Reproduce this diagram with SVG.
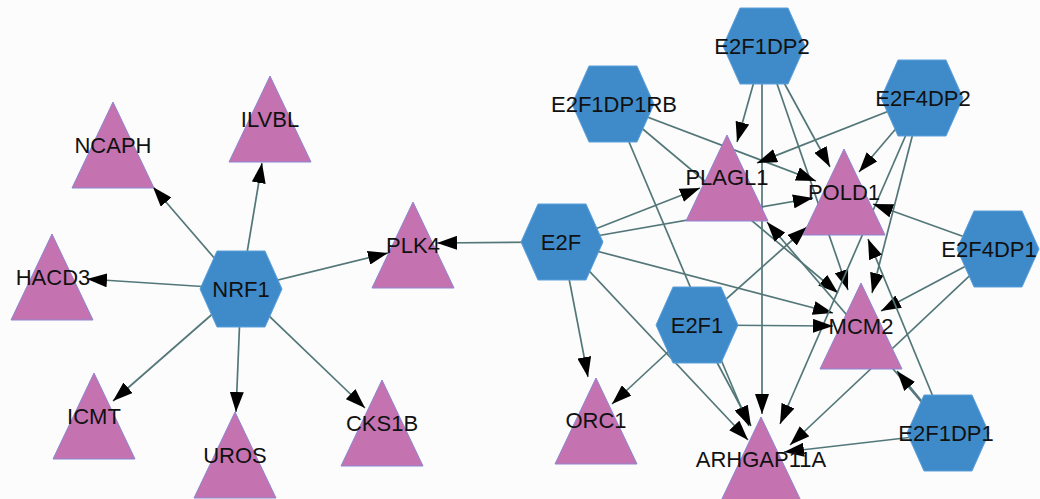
<svg xmlns="http://www.w3.org/2000/svg" xmlns:xlink="http://www.w3.org/1999/xlink" width="1040" height="499" viewBox="0 0 1040 499">
<style>
.edge{stroke:#537779;stroke-width:1.7;fill:none;marker-end:url(#arr)}
.tf{fill:#3f8bca;stroke:#5b9fdc;stroke-width:1}
.tg{fill:#c573b0;stroke:#8a86d2;stroke-width:1}
.lbl{font-family:"Liberation Sans",Arial,sans-serif;font-size:22px;fill:#111;text-anchor:middle}
</style>
<defs>
<marker id="arr" markerUnits="userSpaceOnUse" markerWidth="20" markerHeight="14" refX="20" refY="7" orient="auto">
<path d="M0,0 L20,7 L0,14 z" fill="#000"/>
</marker>
<polygon id="hex" points="-41,0 -24,-38 24,-38 41,0 24,38 -24,38"/>
<polygon id="tri" points="0,-43 41,43 -41,43"/>
</defs>
<rect width="1040" height="499" fill="#fdfcfc"/>
<g id="connectors">
<line class="edge" x1="241" y1="289" x2="153" y2="187"/>
<line class="edge" x1="241" y1="289" x2="262" y2="163"/>
<line class="edge" x1="241" y1="289" x2="388" y2="253"/>
<line class="edge" x1="241" y1="289" x2="87" y2="279"/>
<line class="edge" x1="241" y1="289" x2="113" y2="401"/>
<line class="edge" x1="241" y1="289" x2="236" y2="412"/>
<line class="edge" x1="241" y1="289" x2="365" y2="408"/>
<line class="edge" x1="562" y1="242" x2="437" y2="243"/>
<line class="edge" x1="562" y1="242" x2="700" y2="188"/>
<line class="edge" x1="562" y1="242" x2="813" y2="198"/>
<line class="edge" x1="562" y1="242" x2="833" y2="313"/>
<line class="edge" x1="562" y1="242" x2="588" y2="377"/>
<line class="edge" x1="562" y1="242" x2="748" y2="440"/>
<line class="edge" x1="764" y1="46" x2="737" y2="142"/>
<line class="edge" x1="764" y1="46" x2="830" y2="167"/>
<line class="edge" x1="764" y1="46" x2="848" y2="290"/>
<line class="edge" x1="762" y1="46" x2="762" y2="414"/>
<line class="edge" x1="613" y1="104" x2="816" y2="181"/>
<line class="edge" x1="613" y1="104" x2="838" y2="293"/>
<line class="edge" x1="613" y1="104" x2="749" y2="426"/>
<line class="edge" x1="922" y1="98" x2="757" y2="163"/>
<line class="edge" x1="922" y1="98" x2="859" y2="172"/>
<line class="edge" x1="922" y1="98" x2="872" y2="293"/>
<line class="edge" x1="922" y1="98" x2="780" y2="424"/>
<line class="edge" x1="998" y1="249" x2="873" y2="204"/>
<line class="edge" x1="998" y1="249" x2="881" y2="311"/>
<line class="edge" x1="998" y1="249" x2="790" y2="445"/>
<line class="edge" x1="697" y1="325" x2="807" y2="227"/>
<line class="edge" x1="697" y1="325" x2="833" y2="326"/>
<line class="edge" x1="697" y1="325" x2="612" y2="404"/>
<line class="edge" x1="697" y1="325" x2="751" y2="426"/>
<line class="edge" x1="948" y1="433" x2="767" y2="222"/>
<line class="edge" x1="948" y1="433" x2="868" y2="239"/>
<line class="edge" x1="948" y1="433" x2="897" y2="371"/>
<line class="edge" x1="948" y1="433" x2="784" y2="452"/>
</g>
<g id="NCAPH"><use xlink:href="#tri" href="#tri" class="tg" x="113" y="145"/><text class="lbl" x="113" y="153">NCAPH</text></g>
<g id="ILVBL"><use xlink:href="#tri" href="#tri" class="tg" x="270" y="119"/><text class="lbl" x="270" y="127">ILVBL</text></g>
<g id="HACD3"><use xlink:href="#tri" href="#tri" class="tg" x="52" y="277"/><text class="lbl" x="53" y="285">HACD3</text></g>
<g id="PLK4"><use xlink:href="#tri" href="#tri" class="tg" x="413" y="245"/><text class="lbl" x="413" y="253">PLK4</text></g>
<g id="ICMT"><use xlink:href="#tri" href="#tri" class="tg" x="94" y="416"/><text class="lbl" x="94" y="424">ICMT</text></g>
<g id="UROS"><use xlink:href="#tri" href="#tri" class="tg" x="235" y="455"/><text class="lbl" x="235" y="463">UROS</text></g>
<g id="CKS1B"><use xlink:href="#tri" href="#tri" class="tg" x="382" y="423"/><text class="lbl" x="382" y="431">CKS1B</text></g>
<g id="PLAGL1"><use xlink:href="#tri" href="#tri" class="tg" x="727" y="178"/><text class="lbl" x="727" y="185">PLAGL1</text></g>
<g id="POLD1"><use xlink:href="#tri" href="#tri" class="tg" x="844" y="192"/><text class="lbl" x="844" y="200">POLD1</text></g>
<g id="MCM2"><use xlink:href="#tri" href="#tri" class="tg" x="861" y="326"/><text class="lbl" x="861" y="334">MCM2</text></g>
<g id="ORC1"><use xlink:href="#tri" href="#tri" class="tg" x="596" y="421"/><text class="lbl" x="596" y="428">ORC1</text></g>
<g id="ARHGAP11A"><use xlink:href="#tri" href="#tri" class="tg" x="761" y="460"/><text class="lbl" x="761" y="467">ARHGAP11A</text></g>
<g id="NRF1"><use xlink:href="#hex" href="#hex" class="tf" x="241" y="289"/><text class="lbl" x="241" y="297">NRF1</text></g>
<g id="E2F"><use xlink:href="#hex" href="#hex" class="tf" x="562" y="242"/><text class="lbl" x="561" y="250">E2F</text></g>
<g id="E2F1DP2"><use xlink:href="#hex" href="#hex" class="tf" x="764" y="46"/><text class="lbl" x="762" y="54">E2F1DP2</text></g>
<g id="E2F1DP1RB"><use xlink:href="#hex" href="#hex" class="tf" x="613" y="104"/><text class="lbl" x="614" y="112">E2F1DP1RB</text></g>
<g id="E2F4DP2"><use xlink:href="#hex" href="#hex" class="tf" x="922" y="98"/><text class="lbl" x="923" y="106">E2F4DP2</text></g>
<g id="E2F4DP1"><use xlink:href="#hex" href="#hex" class="tf" x="998" y="249"/><text class="lbl" x="989" y="257">E2F4DP1</text></g>
<g id="E2F1"><use xlink:href="#hex" href="#hex" class="tf" x="697" y="325"/><text class="lbl" x="697" y="333">E2F1</text></g>
<g id="E2F1DP1"><use xlink:href="#hex" href="#hex" class="tf" x="948" y="433"/><text class="lbl" x="946" y="441">E2F1DP1</text></g>
</svg>
